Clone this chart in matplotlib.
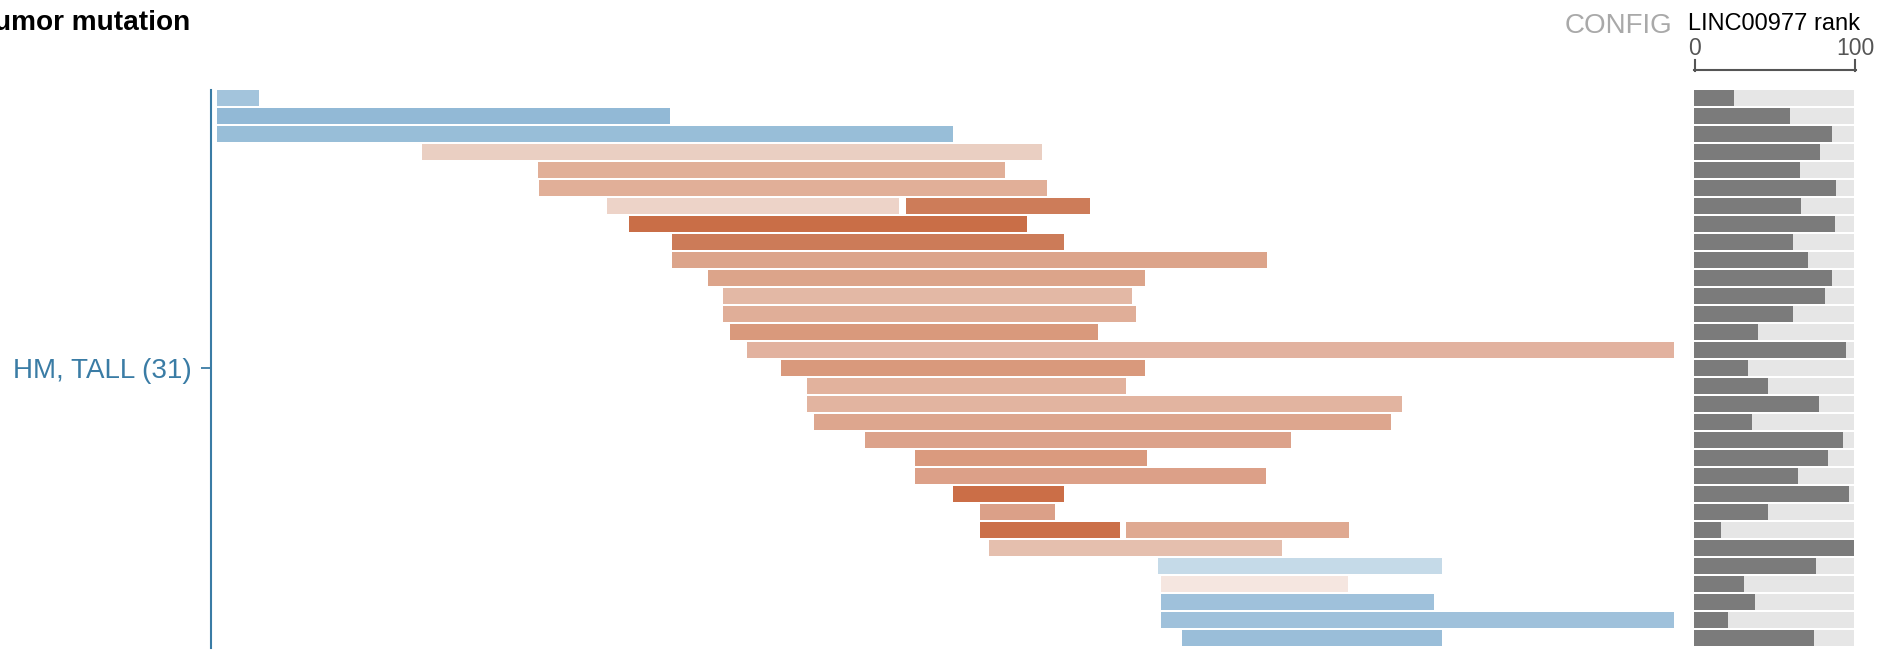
import matplotlib
matplotlib.use("Agg")
import matplotlib.pyplot as plt
from matplotlib.lines import Line2D

plt.rcParams['font.family'] = ['Liberation Sans', 'DejaVu Sans']

# ---- data ----
title = "Tumor mutation"
group_label = "HM, TALL (31)"
rank_title = "LINC00977 rank"

# bar segments: row index, start, end (x scale 0..100), colour
seg_row = [0, 1, 2, 3, 4, 5, 6, 6, 7, 8, 9, 10, 11, 12, 13, 14, 15, 16, 17, 18,
           19, 20, 21, 22, 23, 24, 24, 25, 26, 27, 28, 29, 30]
seg_start = [0.0, 0.0, 0.0, 14.1, 22.0, 22.1, 26.8, 47.3, 28.3, 31.2, 31.2, 33.7,
             34.7, 34.7, 35.2, 36.4, 38.7, 40.5, 40.5, 41.0, 44.5, 47.9, 47.9,
             50.5, 52.4, 52.4, 62.4, 53.0, 64.6, 64.8, 64.8, 64.8, 66.2]
seg_end = [2.9, 31.1, 50.5, 56.6, 54.1, 57.0, 46.8, 59.9, 55.6, 58.1, 72.1, 63.7,
           62.8, 63.1, 60.5, 100.0, 63.7, 62.4, 81.3, 80.6, 73.7, 63.8, 72.0,
           58.1, 57.5, 62.0, 77.7, 73.1, 84.1, 77.6, 83.5, 100.0, 84.1]
seg_color = ['#a3c4dc', '#92b9d6', '#98bed8', '#eacfc2', '#e1af98', '#e1af98',
             '#edd3c8', '#cd7c59', '#c96e47', '#cc7b58', '#dca48a', '#dca48a',
             '#e3b8a5', '#e0ae98', '#d9997c', '#e2b29f', '#d9997c', '#e2b29d',
             '#e2b4a0', '#dda68e', '#dca28a', '#da9a7e', '#dca088', '#cb6e47',
             '#dba088', '#cb6f48', '#dfa991', '#e5bfae', '#c5dae8', '#f5e6e0',
             '#9fc1db', '#9fc1db', '#9abed9']

rank = [25, 60, 86.3, 78.8, 66.3, 88.8, 66.9, 88.1, 61.9, 71.3, 86.3, 81.9, 61.9,
        40, 95, 33.8, 46.3, 78.1, 36.3, 93.1, 83.8, 65, 96.9, 46.3, 16.9, 100,
        76.3, 31.3, 38.1, 21.3, 75]

n_rows = len(rank)

# ---- layout (pixels) ----
W, H = 1890, 654
fig = plt.figure(figsize=(W / 100, H / 100), dpi=100)

top_px, pitch = 90, 18
bot_px = top_px + pitch * n_rows
bar_h = 16 / 18


def fx(px):
    return px / W


def fy(py):
    return 1 - py / H


main_l, main_r = 217, 1674
ax = fig.add_axes([fx(main_l), fy(bot_px), (main_r - main_l) / W, (bot_px - top_px) / H])
ax.barh(seg_row, [e - s for s, e in zip(seg_start, seg_end)], left=seg_start,
        height=bar_h, align='edge', color=seg_color, linewidth=0)
ax.set_xlim(0, 100)
ax.set_ylim(n_rows, 0)
for s in ['top', 'right', 'bottom']:
    ax.spines[s].set_visible(False)
axis_col = '#3a7ca5'
ax.spines['left'].set_position(('outward', 6 * 0.72))
ax.spines['left'].set_color(axis_col)
ax.spines['left'].set_linewidth(1.5)
ax.set_xticks([])
ax.set_yticks([(368 - top_px) / pitch])
ax.set_yticklabels([group_label])
ax.tick_params(axis='y', length=7.2, width=1.3, color=axis_col,
               labelcolor=axis_col, labelsize=20, pad=6.5)

# rank panel
rk_l, rk_r = 1694, 1854
axr = fig.add_axes([fx(rk_l), fy(bot_px), (rk_r - rk_l) / W, (bot_px - top_px) / H])
rows = list(range(n_rows))
axr.barh(rows, [100] * n_rows, height=bar_h, align='edge', color='#e6e6e6', linewidth=0)
axr.barh(rows, rank, height=bar_h, align='edge', color='#7b7b7b', linewidth=0)
axr.set_xlim(0, 100)
axr.set_ylim(n_rows, 0)
axr.axis('off')

# texts
fig.text(fx(190), fy(29.5), title, ha='right', va='baseline', fontsize=20.2,
         fontweight='bold', color='black')
fig.text(fx(1565), fy(33), "CONFIG", ha='left', va='baseline', fontsize=20,
         color='#a9a9a9')
fig.text(fx(1688), fy(29.5), rank_title, ha='left', va='baseline', fontsize=17,
         color='black')
fig.text(fx(1695), fy(55), "0", ha='center', va='baseline', fontsize=16.5, color='#555555')
fig.text(fx(1855), fy(55), "100", ha='center', va='baseline', fontsize=16.5, color='#555555')

# bracket
bc = '#555555'
fig.add_artist(Line2D([fx(1694), fx(1856)], [fy(70.3), fy(70.3)], color=bc, lw=1.5))
fig.add_artist(Line2D([fx(1695), fx(1695)], [fy(60), fy(71.3)], color=bc, lw=1.5))
fig.add_artist(Line2D([fx(1855), fx(1855)], [fy(60), fy(71.3)], color=bc, lw=1.5))

fig.savefig("out.png", dpi=100)
